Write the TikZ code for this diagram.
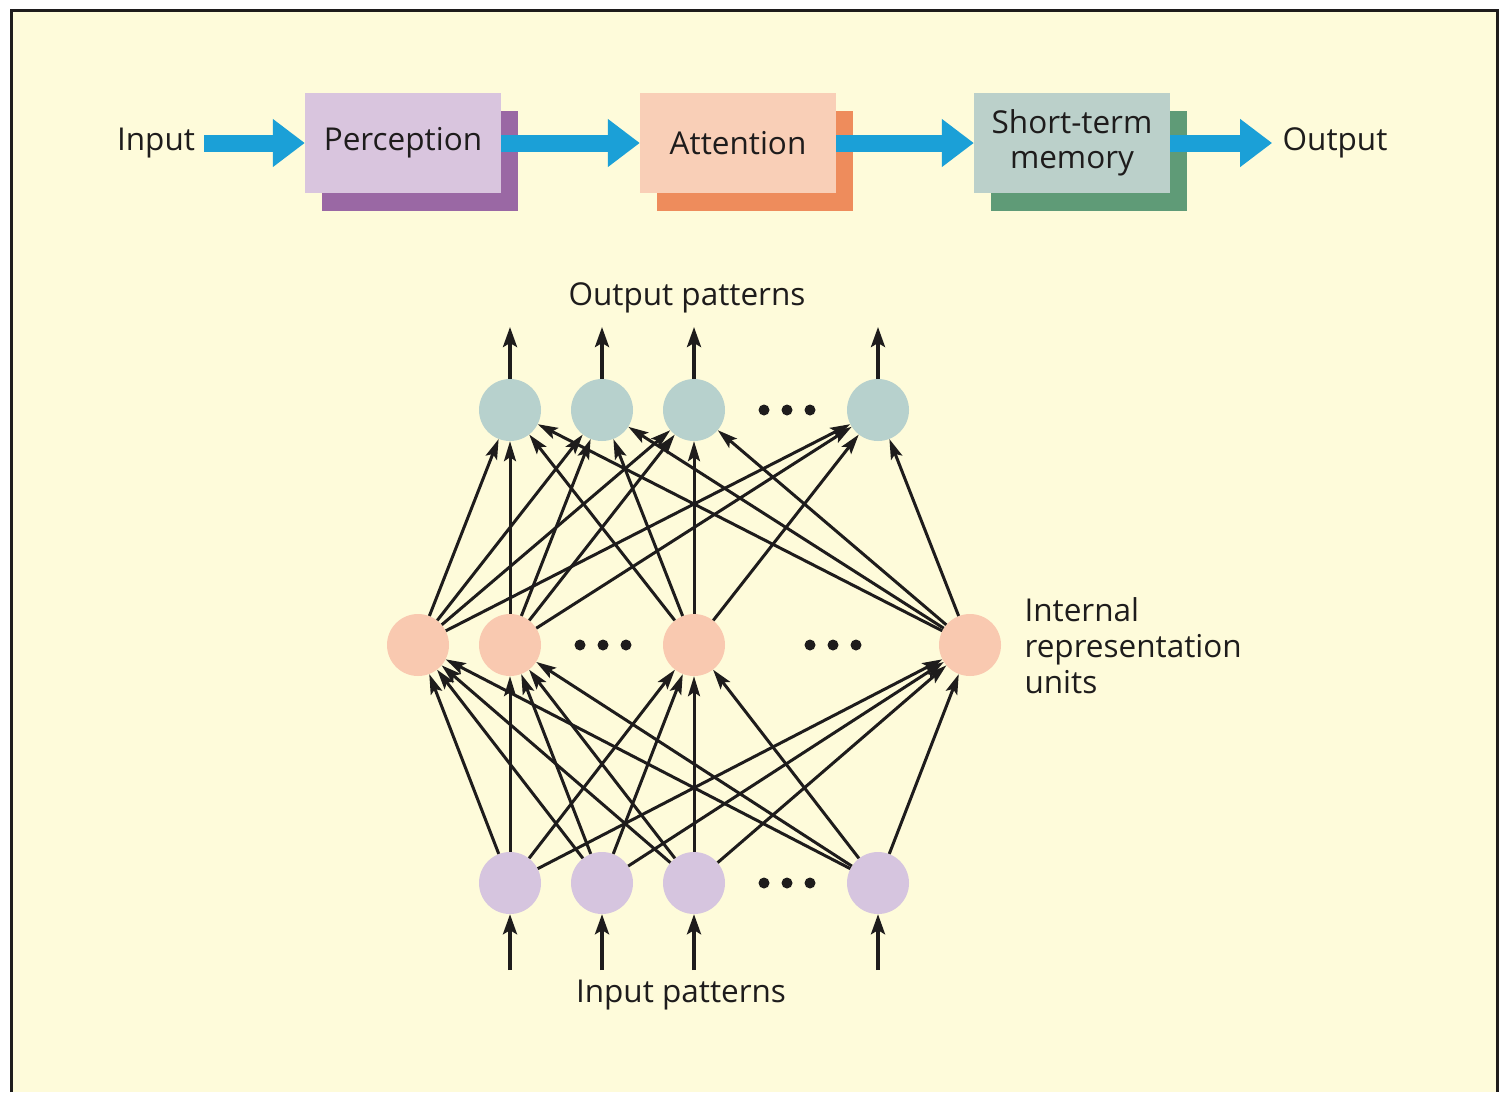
\documentclass[tikz,border=0pt]{standalone}
\usepackage{fontspec}
\setmainfont{Open Sans}
\usetikzlibrary{arrows.meta,shadows}
\definecolor{bg}{HTML}{FEFBDA}
\definecolor{percF}{HTML}{D9C5DE}
\definecolor{percB}{HTML}{9A68A4}
\definecolor{attF}{HTML}{F9CFB7}
\definecolor{attB}{HTML}{EE8C5C}
\definecolor{stmF}{HTML}{BBD0CA}
\definecolor{stmB}{HTML}{5F9B77}
\definecolor{flow}{HTML}{1BA0D7}
\definecolor{outC}{HTML}{B7D1CD}
\definecolor{hidC}{HTML}{F9C9B0}
\definecolor{inC}{HTML}{D6C5DF}
\definecolor{ink}{HTML}{1E1C1C}
\tikzset{
  txt/.style={font=\fontsize{31.5}{36}\selectfont, text=ink},
  box/.style={txt, minimum width=196pt, minimum height=100pt, inner sep=0pt, align=center},
  stage/.style={box, fill=#1F, drop shadow={shadow xshift=17pt, shadow yshift=-18pt, fill=#1B, opacity=1}},
  flowarrow/.style={flow, line width=17pt, -{Triangle[length=32pt, width=46pt]}},
  unit/.style={circle, minimum size=62pt, inner sep=0pt, draw=none, fill=#1},
  edge/.style={ink, line width=3pt, -{Stealth[length=20pt, width=12pt, inset=4pt]}},
  uparrow/.style={ink, line width=3.5pt, -{Stealth[length=20pt, width=14pt, inset=4pt]}},
  dot/.style={circle, fill=ink, minimum size=11pt, inner sep=0pt},
}
\begin{document}
\begin{tikzpicture}[x=1pt,y=-1pt]
\useasboundingbox (0,0) rectangle (1503,1092);
\fill[white] (0,0) rectangle (1503,1092);
\fill[bg] (11,10) rectangle (1497,1092);
\draw[line width=3pt, ink] (11,1092) -- (11,10) -- (1497,10) -- (1497,1092);

% top pipeline
\node[txt] (in) at (156,143) {Input};
\node[stage=perc] (perc) at (403,143) {Perception};
\node[stage=att] (att) at (738,143) {Attention};
\node[stage=stm, font=\fontsize{31.5}{35}\selectfont] (stm) at (1072,143) {Short-term\\memory};
\node[txt] (out) at (1335,143) {Output};
\draw[flowarrow, shorten <=6pt] (in.east) -- (perc.west);
\draw[flowarrow] (perc.east) -- (att.west);
\draw[flowarrow] (att.east) -- (stm.west);
\draw[flowarrow, shorten >=7pt] (stm.east) -- (out.west);

% network units
\foreach \n/\x in {o1/510,o2/602,o3/694,o4/878} \node[unit=outC] (\n) at (\x,410) {};
\foreach \n/\x in {h1/418,h2/510,h3/694,h4/970} \node[unit=hidC] (\n) at (\x,645) {};
\foreach \n/\x in {i1/510,i2/602,i3/694,i4/878} \node[unit=inC] (\n) at (\x,883) {};

% ellipses
\foreach \x in {764,787,810} \node[dot] (do\x) at (\x,410) {};
\foreach \x in {580,603,626,810,833,856} \node[dot] (dh\x) at (\x,645) {};
\foreach \x in {764,787,810} \node[dot] (di\x) at (\x,883) {};

% connections
\foreach \h in {h1,h2,h3,h4}
  \foreach \o in {o1,o2,o3,o4}
    \draw[edge] (\h) -- (\o);
\foreach \i in {i1,i2,i3,i4}
  \foreach \h in {h1,h2,h3,h4}
    \draw[edge] (\i) -- (\h);

% external arrows
\foreach \n/\x in {o1/510,o2/602,o3/694,o4/878} {
  \coordinate (\n top) at (\x,327);
  \draw[uparrow] (\n) -- (\n top);
}
\foreach \n/\x in {i1/510,i2/602,i3/694,i4/878} {
  \coordinate (\n bot) at (\x,970);
  \draw[uparrow] (\n bot) -- (\n);
}

% labels
\node[txt] (outlab) at (687,298) {Output patterns};
\node[txt] (inlab) at (681,995) {Input patterns};
\node[txt, anchor=west, align=left, font=\fontsize{31.5}{36}\selectfont] (intlab) at (1021,646) {Internal\\representation\\units};
\end{tikzpicture}
\end{document}
